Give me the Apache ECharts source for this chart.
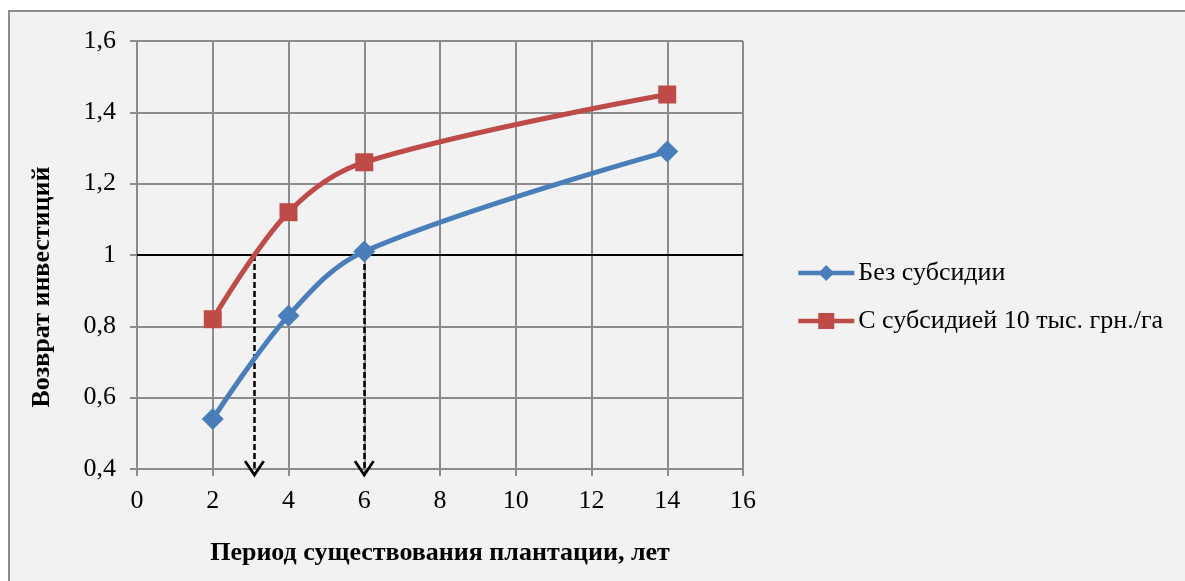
<!DOCTYPE html>
<html>
<head>
<meta charset="utf-8">
<script src="https://cdn.jsdelivr.net/npm/echarts@6/dist/echarts.min.js"></script>
<style>
  html, body { margin: 0; padding: 0; background: #ffffff; }
  #chart { width: 1185px; height: 581px; }
</style>
</head>
<body>
<div id="chart"></div>
<script>
// Years of plantation life and return on investment
const years = [2, 4, 6, 14];
const noSubsidy = [0.54, 0.83, 1.01, 1.29];
const withSubsidy = [0.82, 1.12, 1.26, 1.45];
const seriesNames = ['Без субсидии', 'С субсидией 10 тыс. грн./га'];

// Break-even payback periods (return = 1)
const breakEvenLevel = 1;
const paybackYears = [3.1, 6];

const xAxisTitle = 'Период существования плантации, лет';
const yAxisTitle = 'Возврат инвестиций';

const FONT = '"Liberation Serif", "Times New Roman", serif';
const GRID = '#8c8c8c';

const chart = echarts.init(document.getElementById('chart'));

// Open "V" arrow head pointing up (rotated along the line by ECharts)
const chevron = 'path://M10.5,0 L21,16 L18.6,17.4 L10.5,5 L2.4,17.4 L0,16 Z';

const pairs = (xs, ys) => xs.map((x, i) => [x, ys[i]]);

chart.setOption({
  backgroundColor: '#ffffff',
  animation: false,
  graphic: [
    {
      type: 'rect',
      z: -10,
      shape: { x: 9, y: 11, width: 1300, height: 700 },
      style: { fill: '#f2f2f2', stroke: '#8c8c8c', lineWidth: 2 }
    },
    {
      // vertical axis title, centred on the chart area
      type: 'text',
      x: 42,
      y: 287,
      rotation: Math.PI / 2,
      style: {
        text: yAxisTitle,
        font: 'bold 26px ' + FONT,
        fill: '#000',
        align: 'center',
        verticalAlign: 'middle'
      }
    }
  ],
  grid: { left: 137, right: 442, top: 41, bottom: 112 },
  legend: {
    orient: 'vertical',
    left: 796,
    top: 260,
    padding: 0,
    itemWidth: 56,
    itemHeight: 20,
    itemGap: 22,
    lineStyle: { width: 4.5 },
    textStyle: { fontFamily: FONT, fontSize: 26, color: '#000', padding: [0, 0, 0, -1] },
    data: seriesNames
  },
  xAxis: {
    type: 'value',
    min: 0, max: 16, interval: 2,
    name: xAxisTitle,
    nameLocation: 'middle',
    nameGap: 71,
    nameTextStyle: { fontFamily: FONT, fontSize: 26, fontWeight: 'bold', color: '#000' },
    axisLine: { show: true, onZero: false, lineStyle: { color: GRID, width: 2 } },
    axisTick: { show: true, length: 7, lineStyle: { color: GRID, width: 2 } },
    axisLabel: { fontFamily: FONT, fontSize: 26, color: '#000', margin: 19 },
    splitLine: { show: true, lineStyle: { color: GRID, width: 2 } }
  },
  yAxis: {
    type: 'value',
    min: 0.4, max: 1.6, interval: 0.2,
    axisLine: { show: true, lineStyle: { color: GRID, width: 2 } },
    axisTick: { show: true, length: 7, lineStyle: { color: GRID, width: 2 } },
    axisLabel: {
      fontFamily: FONT, fontSize: 26, color: '#000', margin: 21,
      formatter: v => String(Math.round(v * 10) / 10).replace('.', ',')
    },
    splitLine: { show: true, lineStyle: { color: GRID, width: 2 } }
  },
  series: [
    {
      name: seriesNames[0],
      type: 'line',
      data: pairs(years, noSubsidy),
      smooth: 0.35,
      symbol: 'diamond',
      symbolSize: 22,
      itemStyle: { color: '#4a7ebb' },
      lineStyle: { color: '#4a7ebb', width: 5 },
      z: 3
    },
    {
      name: seriesNames[1],
      type: 'line',
      data: pairs(years, withSubsidy),
      smooth: 0.35,
      symbol: 'rect',
      symbolSize: 18,
      itemStyle: { color: '#be4b48' },
      lineStyle: { color: '#be4b48', width: 5 },
      z: 3,
      markLine: {
        silent: true,
        z: 2,
        label: { show: false },
        emphasis: { disabled: true },
        data: [
          [
            { coord: [0, breakEvenLevel], symbol: 'none', lineStyle: { color: '#000', width: 2, type: 'solid' } },
            { coord: [16, breakEvenLevel], symbol: 'none' }
          ],
          ...paybackYears.map(x => [
            { coord: [x, breakEvenLevel], symbol: 'none', lineStyle: { color: '#000', width: 2.5, type: [6, 3] } },
            { coord: [x, 0.4], symbol: chevron, symbolSize: [21, 17], symbolOffset: [0, 0] }
          ])
        ]
      }
    }
  ]
});
</script>
</body>
</html>
